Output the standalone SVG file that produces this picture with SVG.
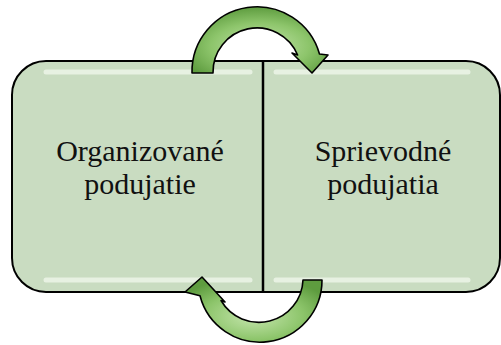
<svg xmlns="http://www.w3.org/2000/svg" width="501" height="345" viewBox="0 0 501 345">
<defs>
<style>
.box{fill:#c9dcc1;stroke:#000;stroke-width:2}
.hl{fill:none;stroke:#f4faef;stroke-width:5;stroke-linecap:round;opacity:0.7}
.arrow{fill:url(#ag);stroke:#000;stroke-width:1.6;stroke-linejoin:round}
.lbl{font-family:"Liberation Serif","Times New Roman",serif;font-size:30px;fill:#111;text-anchor:middle}
</style>
<radialGradient id="ag" cx="0.5" cy="0.6" r="0.6">
<stop offset="0" stop-color="#c6e6ae"/>
<stop offset="0.6" stop-color="#8dc56b"/>
<stop offset="1" stop-color="#5e9c3f"/>
</radialGradient>
</defs>
<g id="node-left">
<path class="box" d="M263,61 L46,61 A34,34 0 0 0 12,95 L12,258 A34,34 0 0 0 46,292 L263,292 Z"/>
<path class="hl" d="M46,72 L250,72"/>
<path class="hl" d="M46,280 L250,280"/>
<text class="lbl" x="140" y="161">Organizované</text>
<text class="lbl" x="140" y="194">podujatie</text>
</g>
<g id="node-right">
<path class="box" d="M263,61 L466,61 A34,34 0 0 1 500,95 L500,258 A34,34 0 0 1 466,292 L263,292 Z"/>
<path class="hl" d="M276,72 L468,72"/>
<path class="hl" d="M276,280 L468,280"/>
<text class="lbl" x="383" y="161">Sprievodné</text>
<text class="lbl" x="383" y="194">podujatia</text>
</g>
<g id="connectors">
<line x1="263" y1="61" x2="263" y2="292" stroke="#000" stroke-width="2.5"/>
<path class="arrow" d="M192,73 A65,65 0 0 1 319.5,54 L328,55 L312,73 L292,53 L297.6,55 A44,44 0 0 0 213,73 Z"/>
<path class="arrow" d="M322,280 A62,62 0 0 1 200,295.8 L185,292 L202,277 L225,302 L221,300.5 A44,44 0 0 0 303,280 Z"/>
</g>
</svg>
